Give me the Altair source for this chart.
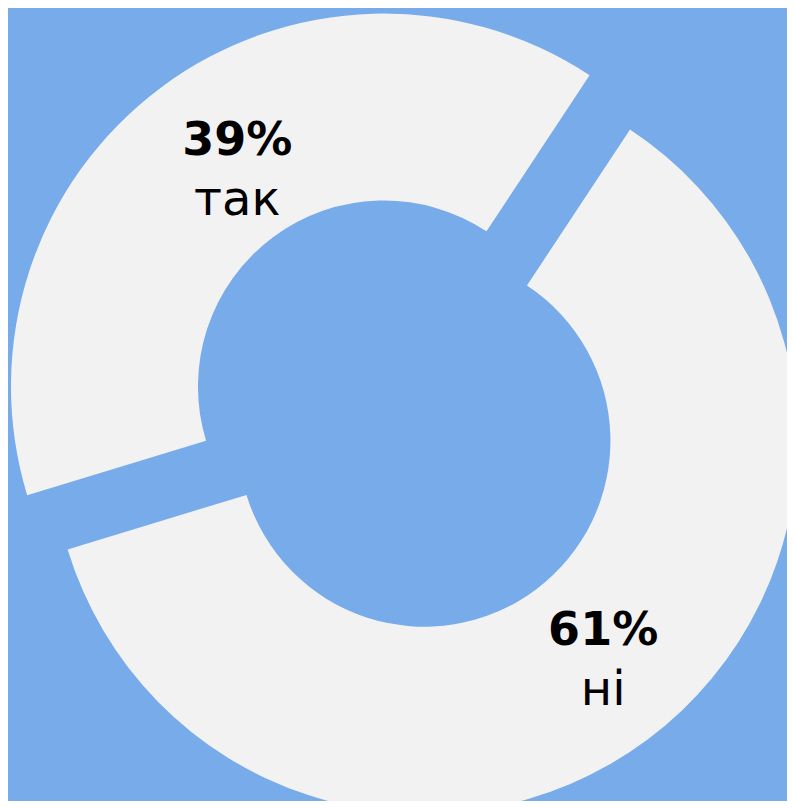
import math
import altair as alt
import pandas as pd

# Data
categories = ["ні", "так"]
values = [61, 39]
pct_labels = ["61%", "39%"]

df = pd.DataFrame({"category": categories, "value": values, "pct": pct_labels})

# Style / layout constants
BG = "#78abe9"
SLICE = "#f2f2f2"
TEXT = "#000000"
W, H = 779, 793
CX, CY = 396.2, 405.6
EXPLODE = 33.8
R_IN, R_OUT = 186, 373
LABEL_R = 272
LABEL_DX = 16
START = math.radians(33.45)

base = (
    alt.Chart(df)
    .transform_window(idx="row_number()")
    .transform_joinaggregate(total="sum(value)")
    .transform_window(cum="sum(value)", sort=[alt.SortField("idx")], frame=[None, 0])
    .transform_calculate(
        a0=f"{START} + 2*PI*(datum.cum - datum.value)/datum.total",
        a1=f"{START} + 2*PI*datum.cum/datum.total",
    )
    .transform_calculate(mid="(datum.a0 + datum.a1)/2")
    .transform_calculate(
        cx=f"{CX} + {EXPLODE}*sin(datum.mid)",
        cy=f"{CY} - {EXPLODE}*cos(datum.mid)",
    )
    .transform_calculate(
        lx=f"datum.cx + {LABEL_R}*sin(datum.mid)",
        ly=f"datum.cy - {LABEL_R}*cos(datum.mid)",
    )
)

arcs = base.mark_arc(outerRadius=R_OUT, innerRadius=R_IN, color=SLICE, strokeWidth=0).encode(
    theta=alt.Theta("a0:Q", scale=None, stack=None),
    theta2=alt.Theta2("a1"),
    x=alt.X("cx:Q", scale=None, axis=None),
    y=alt.Y("cy:Q", scale=None, axis=None),
)

pct_text = base.mark_text(
    font="DejaVu Sans", fontSize=46, fontWeight="bold", color=TEXT,
    baseline="alphabetic", align="center", dx=LABEL_DX, dy=-13.5,
).encode(
    x=alt.X("lx:Q", scale=None, axis=None),
    y=alt.Y("ly:Q", scale=None, axis=None),
    text="pct:N",
)

cat_text = base.mark_text(
    font="DejaVu Sans", fontSize=48, color=TEXT,
    baseline="alphabetic", align="center", dx=LABEL_DX, dy=46.5,
).encode(
    x=alt.X("lx:Q", scale=None, axis=None),
    y=alt.Y("ly:Q", scale=None, axis=None),
    text="category:N",
)

chart = (
    alt.layer(arcs, pct_text, cat_text)
    .properties(width=W, height=H, background=BG, padding=0,
                autosize=alt.AutoSizeParams(type="none"))
    .configure_view(stroke=None)
)

chart.save("out.html", embed_options={"renderer": "svg", "actions": False})
